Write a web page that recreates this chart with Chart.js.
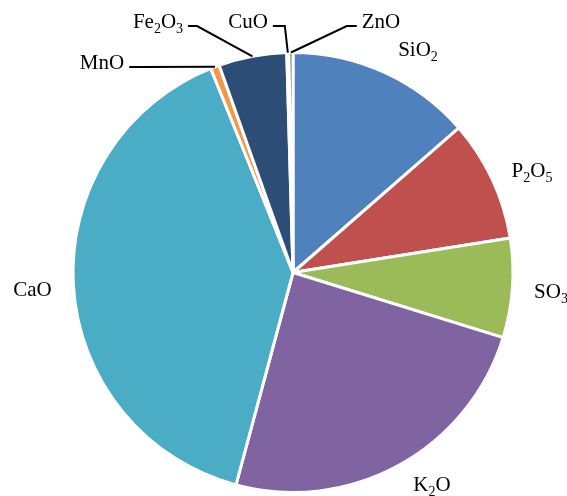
<!DOCTYPE html>
<html>
<head>
<meta charset="utf-8">
<script src="https://cdn.jsdelivr.net/npm/chart.js@4"></script>
<style>
  html, body { margin: 0; padding: 0; background: #fff; }
  #wrap { width: 567px; height: 496px; }
</style>
</head>
<body>
<div id="wrap"><canvas id="myChart"></canvas></div>
<script>
// oxide composition (%), clockwise from 12 o'clock
const categories = ['SiO2', 'P2O5', 'SO3', 'K2O', 'CaO', 'MnO', 'Fe2O3', 'CuO', 'ZnO'];
const values = [13.6, 8.9, 7.3, 24.4, 39.75, 0.65, 5.0, 0.15, 0.3];
const colors = ['#4F81BD', '#C0504D', '#9BBB59', '#8064A2', '#4BACC6', '#F79646', '#2C4D75', '#772C2A', '#5F7530'];

// label placement relative to pie centre; small slices get a leader line
const labelLayout = [
  { dx: 125, dy: -223.5 },
  { dx: 239, dy: -102.5 },
  { dx: 258, dy: 18.5 },
  { dx: 139, dy: 211.5 },
  { dx: -260.5, dy: 16.5 },
  { dx: -191, dy: -210.5, leader: 'right', elbow: 10 },
  { dx: -135, dy: -251.5, leader: 'right', elbow: 9 },
  { dx: -45, dy: -251.5, leader: 'right', elbow: 12 },
  { dx: 88, dy: -251.5, leader: 'left', elbow: 10 }
];

const mainFont = '21px "Liberation Serif", "Times New Roman", serif';
const subFont = '14px "Liberation Serif", "Times New Roman", serif';

// digits in a formula are drawn as subscripts
function splitFormula(s) {
  return s.match(/[0-9]+|[^0-9]+/g).map(t => ({ text: t, sub: /^[0-9]/.test(t) }));
}

const labelPlugin = {
  id: 'oxideLabels',
  afterDraw(chart) {
    const ctx = chart.ctx;
    const meta = chart.getDatasetMeta(0);
    ctx.save();
    ctx.fillStyle = '#000';
    ctx.strokeStyle = '#000';
    ctx.textBaseline = 'alphabetic';
    meta.data.forEach((arc, i) => {
      const p = arc.getProps(['x', 'y', 'startAngle', 'endAngle', 'outerRadius'], true);
      const lay = labelLayout[i];
      const parts = splitFormula(categories[i]);
      let w = 0;
      parts.forEach(part => {
        ctx.font = part.sub ? subFont : mainFont;
        part.w = ctx.measureText(part.text).width;
        w += part.w;
      });
      const cx = p.x + lay.dx, cy = p.y + lay.dy;
      const left = cx - w / 2;
      const base = cy + 7;
      let xx = left;
      parts.forEach(part => {
        ctx.font = part.sub ? subFont : mainFont;
        ctx.fillText(part.text, xx, part.sub ? base + 5 : base);
        xx += part.w;
      });
      if (lay.leader) {
        const mid = (p.startAngle + p.endAngle) / 2;
        const px = p.x + Math.cos(mid) * p.outerRadius;
        const py = p.y + Math.sin(mid) * p.outerRadius;
        const ly = cy + 5;
        const sx = lay.leader === 'right' ? left + w + 5 : left - 5;
        const ex = lay.leader === 'right' ? sx + lay.elbow : sx - lay.elbow;
        ctx.lineWidth = 2;
        ctx.beginPath();
        ctx.moveTo(sx, ly);
        ctx.lineTo(ex, ly);
        ctx.lineTo(px, py);
        ctx.stroke();
      }
    });
    ctx.restore();
  }
};

const data = {
  labels: categories,
  datasets: [{
    data: values,
    backgroundColor: colors,
    borderColor: '#fff',
    borderWidth: 3,
    hoverOffset: 0
  }]
};

const config = {
  type: 'pie',
  data: data,
  options: {
    responsive: true,
    maintainAspectRatio: false,
    animation: false,
    layout: {
      padding: { top: 51, bottom: 2, left: 71, right: 52 }
    },
    plugins: {
      legend: { display: false },
      tooltip: { enabled: false }
    }
  },
  plugins: [labelPlugin]
};

var myChart = new Chart(document.getElementById('myChart'), config);
</script>
</body>
</html>
